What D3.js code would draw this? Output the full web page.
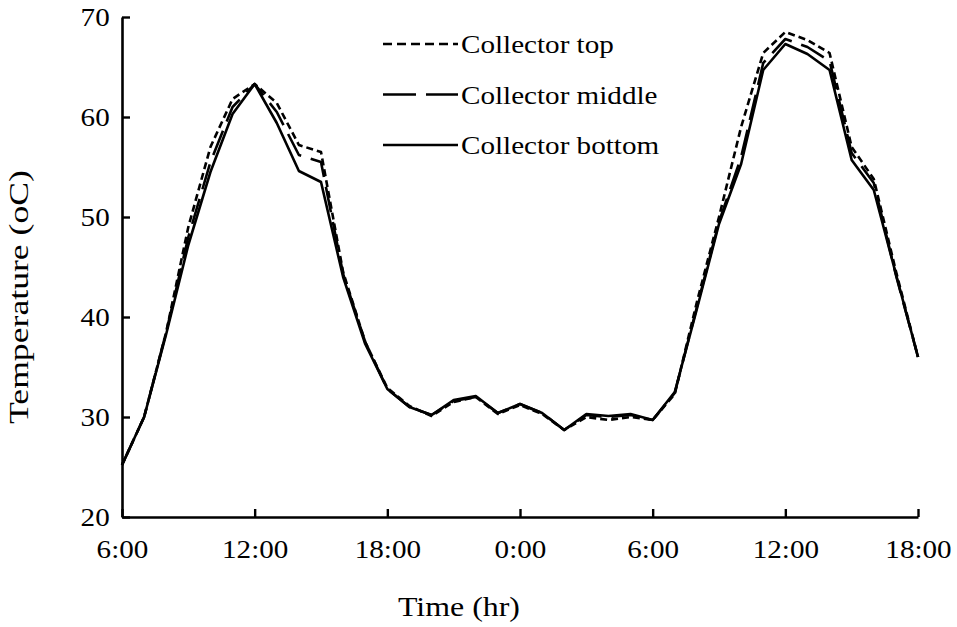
<!DOCTYPE html>
<html>
<head>
<meta charset="utf-8">
<script src="https://cdn.jsdelivr.net/npm/d3@7"></script>
<style>
  body { margin: 0; background: #fff; }
  svg { display: block; }
  text { font-family: "Liberation Serif", "Times New Roman", serif; fill: #000; }
</style>
</head>
<body>
<svg id="chart"></svg>
<script>
// hours since 6:00 on day one
const hours = d3.range(0, 37);
const tickHours = [0, 6, 12, 18, 24, 30, 36];
const tickLabels = ["6:00", "12:00", "18:00", "0:00", "6:00", "12:00", "18:00"];
const yTicks = [20, 30, 40, 50, 60, 70];

const seriesNames = ["Collector top", "Collector middle", "Collector bottom"];

const collectorTop = [25.2, 30, 38.5, 49, 57, 61.8, 63.3, 61.4, 57.2, 56.5, 44.5, 37.5, 32.9, 31.1, 30.1, 31.5, 32, 30.3, 31.2,
  30.3, 28.7, 30, 29.7, 30, 29.7, 32.3, 41.5, 50, 59, 66.4, 68.5, 67.7, 66.4, 57, 53.8, 44.6, 36];
const collectorMiddle = [25.2, 30, 38.5, 48, 55.5, 61, 63.3, 60.5, 56.2, 55.5, 44.3, 37.5, 32.8, 31, 30.2, 31.6, 32, 30.4, 31.3,
  30.4, 28.7, 30.2, 30, 30.2, 29.7, 32.4, 41, 49.5, 56, 65.4, 67.8, 67, 65.6, 56.4, 53.4, 44.2, 36];
const collectorBottom = [25.2, 30, 38.3, 47.2, 54.5, 60.3, 63.3, 59.4, 54.6, 53.5, 44, 37.3, 32.8, 31, 30.2, 31.7, 32.1, 30.4, 31.3,
  30.4, 28.7, 30.3, 30.1, 30.3, 29.7, 32.5, 40.8, 49.3, 55.3, 64.7, 67.3, 66.3, 64.7, 55.7, 52.7, 44.3, 36];

// the source picture's lettering is a bit wider than Times metrics
const TEXT_STRETCH = 1.12;

class LineChart {

    constructor( config, series ) {
        this.config = {
            parent: config.parent,
            width: config.width || 957,
            height: config.height || 627,
            margin: config.margin || {top:17, right:39, bottom:110, left:122}
        }
        this.series = series;
        this.init();
    }

    init() {
        let self = this;

        self.svg = d3.select( self.config.parent )
            .attr('width', self.config.width)
            .attr('height', self.config.height);

        self.chart = self.svg.append('g')
            .attr('transform', `translate(${self.config.margin.left}, ${self.config.margin.top})`);

        self.inner_width = self.config.width - self.config.margin.left - self.config.margin.right;
        self.inner_height = self.config.height - self.config.margin.top - self.config.margin.bottom;

        self.xscale = d3.scaleLinear()
            .domain([0, 36])
            .range([0, self.inner_width]);

        self.yscale = d3.scaleLinear()
            .domain([20, 70])
            .range([self.inner_height, 0]);

        self.xaxis = d3.axisBottom( self.xscale )
            .tickValues(tickHours)
            .tickFormat((d, i) => tickLabels[i])
            .tickSizeInner(-8)
            .tickSizeOuter(0)
            .tickPadding(23);

        self.yaxis = d3.axisLeft( self.yscale )
            .tickValues(yTicks)
            .tickSizeInner(-8)
            .tickSizeOuter(0)
            .tickPadding(11);
    }

    render() {
        let self = this;

        const line = d3.line()
            .x((d, i) => self.xscale(hours[i]))
            .y(d => self.yscale(d));

        self.chart.selectAll('path.series')
            .data(self.series)
            .join('path')
            .attr('class', 'series')
            .attr('d', d => line(d.values))
            .attr('fill', 'none')
            .attr('stroke', '#000')
            .attr('stroke-width', 2.6)
            .attr('stroke-linejoin', 'round')
            .attr('stroke-dasharray', d => d.dash);

        const xg = self.chart.append('g')
            .attr('transform', `translate(0, ${self.inner_height})`)
            .call( self.xaxis );

        const yg = self.chart.append('g')
            .call( self.yaxis );

        [xg, yg].forEach(g => {
            g.select('.domain').attr('stroke-width', 2.6);
            g.selectAll('.tick line').attr('stroke-width', 2.4);
            g.selectAll('.tick text')
                .attr('font-size', 26)
                .attr('font-family', '"Liberation Serif", serif')
                .attr('transform', `scale(${TEXT_STRETCH}, 1)`);
        });

        // axis titles
        self.svg.append('text')
            .attr('x', 459)
            .attr('y', 616)
            .attr('text-anchor', 'middle')
            .attr('font-size', 27)
            .attr('textLength', 122)
            .attr('lengthAdjust', 'spacingAndGlyphs')
            .text('Time (hr)');

        self.svg.append('text')
            .attr('transform', 'translate(28, 297) rotate(-90)')
            .attr('text-anchor', 'middle')
            .attr('font-size', 27)
            .attr('textLength', 254)
            .attr('lengthAdjust', 'spacingAndGlyphs')
            .text('Temperature (oC)');

        // legend
        const legend = self.svg.append('g')
            .attr('transform', 'translate(383, 44)');

        const item = legend.selectAll('g')
            .data(self.series)
            .join('g')
            .attr('transform', (d, i) => `translate(0, ${i * 50.5})`);

        item.append('line')
            .attr('x1', 0).attr('x2', 75)
            .attr('stroke', '#000')
            .attr('stroke-width', 2.6)
            .attr('stroke-dasharray', d => d.legendDash);

        item.append('text')
            .attr('transform', `translate(78, 9) scale(${TEXT_STRETCH}, 1)`)
            .attr('font-size', 26)
            .text(d => d.name);
    }
}

const series = [
    { name: seriesNames[0], values: collectorTop, dash: '7,4', legendDash: '9,5' },
    { name: seriesNames[1], values: collectorMiddle, dash: '26,10', legendDash: '33,10' },
    { name: seriesNames[2], values: collectorBottom, dash: null, legendDash: null }
];

const chart = new LineChart({ parent: '#chart', width: 957, height: 627 }, series);
chart.render();
</script>
</body>
</html>
